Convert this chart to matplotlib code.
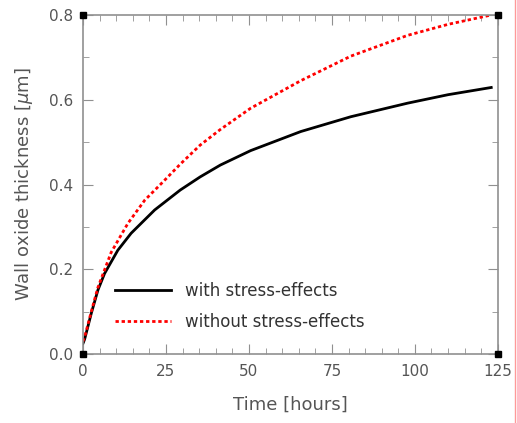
import matplotlib as mpl
import matplotlib.pyplot as plt
from matplotlib.lines import Line2D
import matplotlib.ticker as mtick

mpl.rcParams['font.family'] = 'DejaVu Sans'
mpl.rcParams['font.size'] = 11

# data
t_with = [0, 0.5, 2.5, 4.5, 6.5, 10.5, 14.5, 21.6, 29.3, 35.3, 41.4, 50.5, 65.6, 80.7, 97.8, 110, 123]
y_with = [0.025, 0.035, 0.096, 0.151, 0.19, 0.245, 0.285, 0.34, 0.387, 0.418, 0.446, 0.48, 0.525, 0.56, 0.592, 0.612, 0.629]
t_without = [0, 0.5, 2.5, 4.5, 8.5, 13.5, 18.6, 24.2, 29.3, 35.3, 41.4, 50.5, 65.6, 80.7, 97.8, 110, 123]
y_without = [0.03, 0.04, 0.10, 0.157, 0.24, 0.308, 0.363, 0.407, 0.448, 0.493, 0.53, 0.58, 0.645, 0.703, 0.752, 0.778, 0.80]
labels = ['with stress-effects', 'without stress-effects']

grey = '#555555'
axcol = '#909090'

fig = plt.figure(figsize=(5.17, 4.23), dpi=100)
ax = fig.add_axes([0.1605, 0.163, 0.8025, 0.8015])

ax.plot(t_with, y_with, color='black', lw=2, label=labels[0])
ax.plot(t_without, y_without, color='red', lw=2, linestyle=(0, (1.2, 1)), label=labels[1])

# corner squares
ax.plot([0, 0, 125, 125], [0, 0.8, 0.8, 0], 's', color='black', ms=5, clip_on=False, zorder=5)

ax.set_xlim(0, 125)
ax.set_ylim(0, 0.8)
ax.xaxis.set_major_locator(mtick.MultipleLocator(25))
ax.xaxis.set_minor_locator(mtick.MultipleLocator(5))
ax.yaxis.set_major_locator(mtick.MultipleLocator(0.2))
ax.yaxis.set_minor_locator(mtick.MultipleLocator(0.1))
ax.yaxis.set_major_formatter(mtick.FormatStrFormatter('%.1f'))
ax.tick_params(which='both', direction='in', top=True, right=True, color=axcol, labelcolor=grey)
ax.tick_params(which='major', length=7, pad=7)
ax.tick_params(which='minor', length=4)
for s in ax.spines.values():
    s.set_color(axcol)
    s.set_linewidth(1.2)

ax.set_xlabel('Time [hours]', color=grey, fontsize=13, labelpad=12)
ax.set_ylabel('Wall oxide thickness [$\\mu$m]', color=grey, fontsize=13, labelpad=10)

leg = ax.legend(loc='lower left', bbox_to_anchor=(0.04, 0.025), frameon=False,
                fontsize=12, handlelength=3.4, labelspacing=0.75)
for txt in leg.get_texts():
    txt.set_color('#333333')

# thin red line at the right edge
fig.add_artist(Line2D([0.996, 0.996], [0.0, 1.0], color='#ff9999', lw=1))

plt.savefig('out.png', dpi=100)
